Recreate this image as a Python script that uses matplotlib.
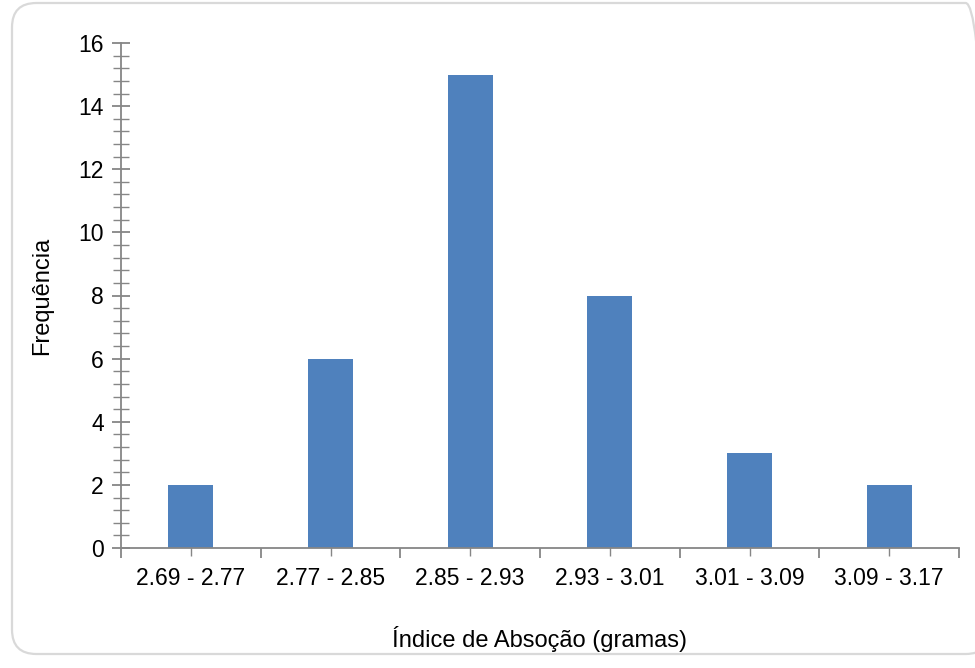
import matplotlib
matplotlib.use("Agg")
import matplotlib.pyplot as plt
from matplotlib.patches import FancyBboxPatch
from matplotlib.ticker import MultipleLocator, FixedLocator

classes = ["2.69 - 2.77", "2.77 - 2.85", "2.85 - 2.93", "2.93 - 3.01", "3.01 - 3.09", "3.09 - 3.17"]
freq = [2, 6, 15, 8, 3, 2]

plt.rcParams['font.family'] = ['Liberation Sans', 'DejaVu Sans']
fs = 16.5

fig = plt.figure(figsize=(9.75, 6.68), dpi=100)

# moldura arredondada do grafico
W, H = 975.0, 668.0
frame = FancyBboxPatch((12 / W, 14 / H), (990 - 12) / W, (665 - 14) / H,
                       boxstyle="round,pad=0,rounding_size=0.025",
                       transform=fig.transFigure, facecolor="none",
                       edgecolor="#D9D9D9", linewidth=1.6, mutation_aspect=W / H)
fig.patches.append(frame)

ax = fig.add_axes([121 / W, (H - 548) / H, 838 / W, 505 / H])
pos = list(range(len(classes)))
ax.bar(pos, freq, width=0.32, color="#4F81BD", zorder=2)

ax.set_xlim(-0.5, len(classes) - 0.5)
ax.set_ylim(0, 16)

gray = "#868686"
for s in ["top", "right"]:
    ax.spines[s].set_visible(False)
for s in ["left", "bottom"]:
    ax.spines[s].set_color(gray)
    ax.spines[s].set_linewidth(1.3)
    ax.spines[s].set_zorder(3)

ax.yaxis.set_major_locator(MultipleLocator(2))
ax.yaxis.set_minor_locator(MultipleLocator(0.4))
ax.tick_params(axis="y", which="major", direction="inout", length=13, width=1.3,
               color=gray, labelsize=fs, pad=6)
ax.tick_params(axis="y", which="minor", direction="inout", length=11, width=1.0, color=gray)

# limites das classes como ticks principais, rotulos no centro
ax.xaxis.set_major_locator(FixedLocator([i - 0.5 for i in range(len(classes) + 1)]))
ax.xaxis.set_minor_locator(FixedLocator(pos))
ax.xaxis.set_major_formatter(plt.NullFormatter())
ax.set_xticks(pos, classes, minor=True)
ax.tick_params(axis="x", which="major", direction="out", length=7, width=1.3, color=gray)
ax.tick_params(axis="x", which="minor", direction="inout", length=11, width=1.0,
               color=gray, labelsize=fs, pad=8)

ax.set_ylabel("Frequência", fontsize=fs + 0.5, labelpad=18)
ax.set_xlabel("Índice de Absoção (gramas)", fontsize=fs + 0.5, labelpad=26)

plt.savefig("out.png", dpi=100)
